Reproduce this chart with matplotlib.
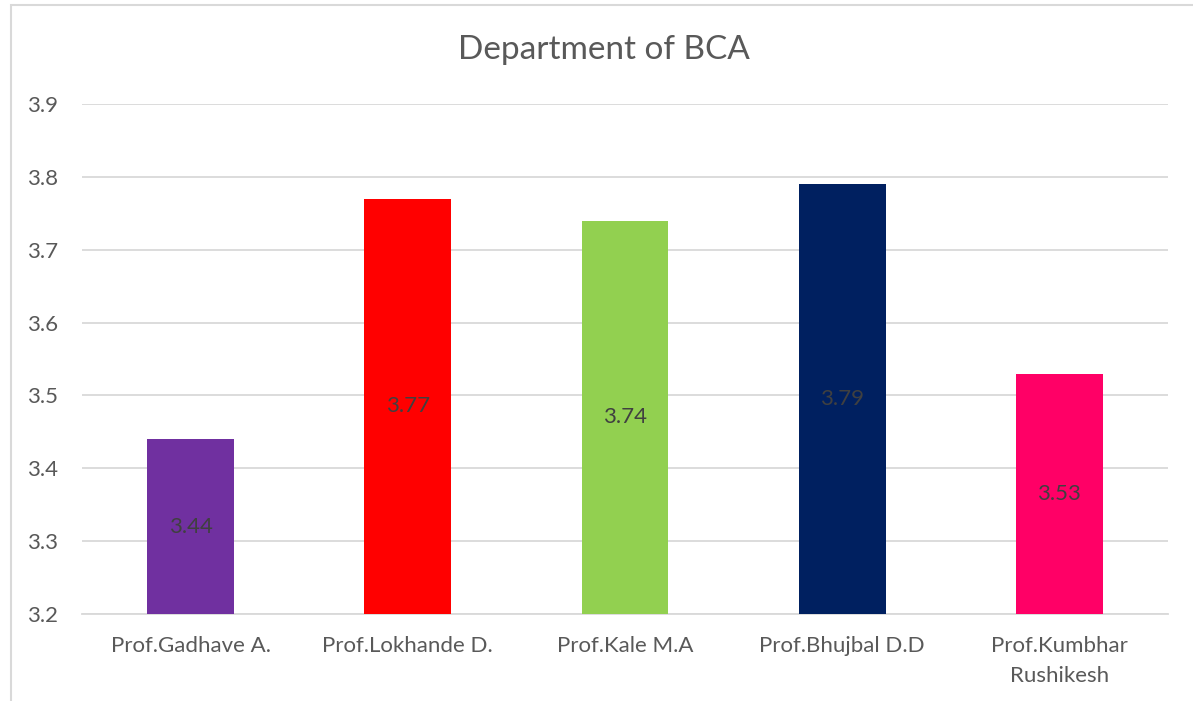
import matplotlib
matplotlib.use("Agg")
import matplotlib.pyplot as plt
from matplotlib.patches import Rectangle

categories = ["Prof.Gadhave A.", "Prof.Lokhande D.", "Prof.Kale M.A", "Prof.Bhujbal D.D", "Prof.Kumbhar\nRushikesh"]
values = [3.44, 3.77, 3.74, 3.79, 3.53]
colors = ["#7030A0", "#FF0000", "#92D050", "#002060", "#FF0066"]
yticks = [3.2, 3.3, 3.4, 3.5, 3.6, 3.7, 3.8, 3.9]

plt.rcParams['font.family'] = ['Lato', 'DejaVu Sans']

W, H = 1193, 701
fig = plt.figure(figsize=(W / 100, H / 100), dpi=100)
fig.patches.append(Rectangle((11 / W, -0.1), 1.2, 1 - 5 / H + 0.1, transform=fig.transFigure,
                             fill=False, edgecolor="#D9D9D9", linewidth=1.5))
ax = fig.add_axes([82 / W, 1 - 614 / H, (1168 - 82) / W, (614 - 104) / H])

x = list(range(len(categories)))
base = 3.2
ax.bar(x, [v - base for v in values], bottom=base, width=0.4, color=colors, zorder=3)
for xi, v in zip(x, values):
    ax.text(xi, (base + v) / 2, f"{v:.2f}", ha="center", va="center", fontsize=16, color="#404040", zorder=4)

ax.set_ylim(3.2, 3.9)
ax.set_xlim(-0.5, len(categories) - 0.5)
ax.set_yticks(yticks)
ax.set_yticklabels([f"{t:.1f}" for t in yticks])
ax.yaxis.grid(True, color="#D9D9D9", linewidth=1.3, zorder=0)
ax.set_xticks(x)
ax.set_xticklabels(categories, linespacing=1.6)
ax.tick_params(axis="both", length=0, labelsize=16, colors="#595959")
ax.tick_params(axis="y", pad=17)
ax.tick_params(axis="x", pad=16)
for s in ["top", "right", "left"]:
    ax.spines[s].set_visible(False)
ax.spines["bottom"].set_color("#D9D9D9")
ax.spines["bottom"].set_linewidth(1.3)

fig.text(604 / W, 1 - 50 / H, "Department of BCA", ha="center", va="center", fontsize=24, color="#595959")

fig.savefig("out.png", dpi=100)
